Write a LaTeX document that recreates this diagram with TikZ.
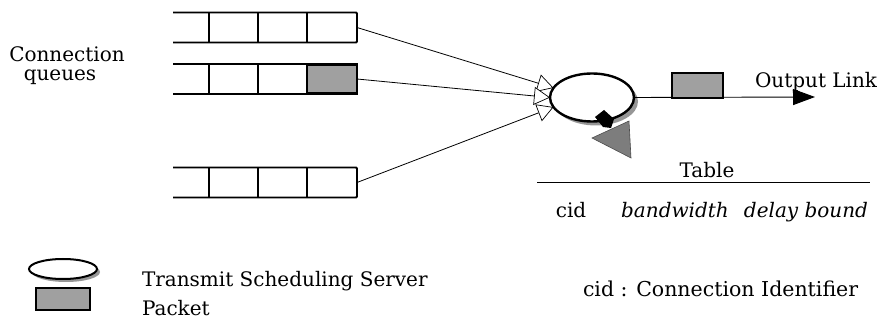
\documentclass[tikz,border=0pt]{standalone}
\usepackage{fontspec}
\setmainfont{DejaVu Serif}
\usetikzlibrary{arrows.meta,shapes.geometric}
\definecolor{pktgray}{RGB}{160,160,160}
\definecolor{markgray}{RGB}{125,125,125}
\definecolor{shadowgray}{RGB}{150,150,150}
\begin{document}
\begin{tikzpicture}[x=1pt,y=-1pt,
  every node/.style={font=\fontsize{20}{24}\selectfont, inner sep=0pt, outer sep=0pt},
  queue/.style={minimum width=184pt, minimum height=30pt},
  qline/.style={line width=1.8pt, rounded corners=1pt},
  cell/.style={line width=1.1pt},
  packet/.style={draw, fill=pktgray, line width=2.4pt, rectangle},
  server/.style={draw, ellipse, fill=white, line width=2.4pt},
  shade/.style={fill=shadowgray},
  feed/.style={line width=0.8pt, -{Triangle[open, length=16pt, width=18pt, line width=0.7pt, fill=white]}},
  outlink/.style={line width=0.9pt, -{Triangle[length=22pt, width=16pt]}},
]
\useasboundingbox (0,0) rectangle (878,320);

% connection queues
\node[queue] (q1) at (265,27.5) {};
\node[queue] (q2) at (265,79) {};
\node[queue] (q3) at (265,182.5) {};
\foreach \q in {q1,q2,q3}{
  \draw[qline] (\q.north west) -- (\q.north east) -- (\q.south east) -- (\q.south west);
  \draw[cell] ([xshift=36pt]\q.north west) -- ([xshift=36pt]\q.south west);
  \draw[cell] ([xshift=85pt]\q.north west) -- ([xshift=85pt]\q.south west);
  \draw[line width=1.8pt] ([xshift=134pt]\q.north west) -- ([xshift=134pt]\q.south west);
}
% queued packet at the head of the second queue
\node[packet, minimum width=50pt, minimum height=29pt] (p1) at (332,79) {};

\node[anchor=base] (lbl1) at (67,62) {Connection};
\node[anchor=base] (lbl2) at (60,81) {queues};

% scheduling server with its shadow
\fill[shade] (596,101.5) ellipse [x radius=42, y radius=24];
\node[server, minimum width=84pt, minimum height=48pt] (srv) at (592,97.5) {};

% rotation marker on the server
\draw[fill=markgray, draw=black!70, line width=0.6pt] (592,138) -- (629,121) -- (631,158) -- cycle;
\fill[black] (595,117) -- (604,110) -- (614,119) -- (611,128) -- (603,127) -- cycle;

% queues feeding the server
\draw[feed] (q1.east) -- (srv.166);
\draw[feed] (q2.east) -- (srv.west);
\draw[feed] (q3.east) -- (srv.194);

% output link
\coordinate (olend) at (815,97);
\draw[outlink] (srv.east) -- (olend);
\node[packet, minimum width=51pt, minimum height=25pt] (p2) at (697.5,85.5) {};
\node[anchor=base west] (olbl) at (755,88) {Output Link};

% scheduling table
\node[anchor=base] (tbl) at (707,178) {Table};
\coordinate (tl) at (537,182);
\coordinate (tr) at (870,182);
\draw[line width=0.8pt] (tl) -- (tr);
\node[anchor=base] (c1) at (571,218) {cid};
\node[anchor=base] (c2) at (675,218) {\itshape bandwidth};
\node[anchor=base] (c3) at (806,218) {\itshape delay bound};

% legend
\fill[shade] (66,272) ellipse [x radius=34, y radius=10];
\node[server, minimum width=68pt, minimum height=20pt, line width=2pt] (lg1) at (63,269) {};
\node[packet, minimum width=54pt, minimum height=22pt] (lg2) at (63,299) {};
\node[anchor=base west] (lt1) at (142,287) {Transmit Scheduling Server};
\node[anchor=base west] (lt2) at (142,316) {Packet};
\node[anchor=base west, font=\fontsize{20.5}{24}\selectfont] (lt3) at (583,297) {cid : Connection Identifier};
\end{tikzpicture}
\end{document}
